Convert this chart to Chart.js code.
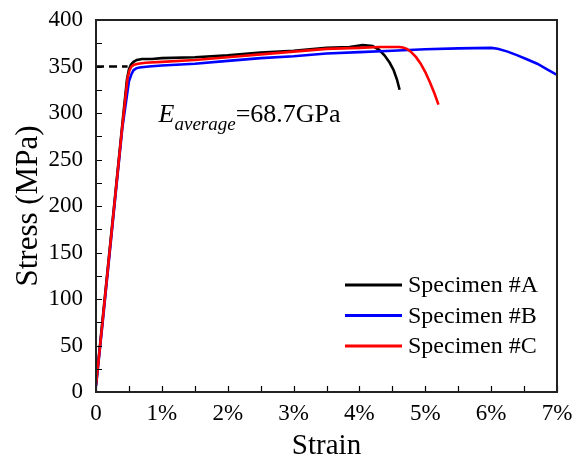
<!DOCTYPE html>
<html>
<head>
<meta charset="utf-8">
<script src="https://cdn.jsdelivr.net/npm/chart.js@4.4.1/dist/chart.umd.min.js"></script>
<style>
  html, body { margin: 0; padding: 0; background: #fff; }
  canvas { display: block; }
</style>
</head>
<body>
<canvas id="chart" width="574" height="465"></canvas>
<script>
const FONT = '"Liberation Serif", "Times New Roman", serif';

// strain in %, stress in MPa
const strainA = [0, 0.1, 0.2, 0.3, 0.4, 0.47, 0.5, 0.53, 0.57, 0.62, 0.7, 0.85, 1.0, 1.5, 2.0, 2.5, 3.0, 3.5, 3.85, 4.05, 4.2, 4.3, 4.38, 4.46, 4.52, 4.57, 4.61];
const stressA = [8, 78, 148, 218, 288, 336, 347, 352, 355, 357, 358, 358, 359, 360, 362, 365, 367, 370, 371, 373, 372, 368, 362, 354, 346, 336, 325];

const strainB = [0, 0.1, 0.2, 0.3, 0.4, 0.5, 0.54, 0.57, 0.61, 0.66, 0.8, 1.0, 1.5, 2.0, 2.5, 3.0, 3.5, 4.0, 4.5, 5.0, 5.5, 6.0, 6.1, 6.25, 6.4, 6.55, 6.7, 6.85, 7.0];
const stressB = [6, 74, 144, 214, 284, 334, 342, 346, 348, 349, 350, 351, 353, 356, 359, 361, 364, 365.5, 367, 368.5, 369.5, 370, 369, 366, 362, 357.5, 353, 347, 341];

const strainC = [0, 0.1, 0.2, 0.3, 0.4, 0.48, 0.51, 0.54, 0.58, 0.64, 0.75, 1.0, 1.5, 2.0, 2.5, 3.0, 3.5, 4.0, 4.3, 4.6, 4.66, 4.72, 4.78, 4.86, 4.93, 5.0, 5.07, 5.14, 5.2];
const stressC = [7, 76, 146, 216, 286, 338, 346, 350, 352, 353, 354, 355, 357, 360, 363, 366, 369, 370, 371, 371, 370.5, 369, 366, 360, 353, 344, 333, 321, 309];

// dashed yield guide
const strainYield = [0, 0.48];
const stressYield = [350, 350];

const labels = ['Specimen #A', 'Specimen #B', 'Specimen #C'];
const colors = ['#000000', '#0000ff', '#ff0000'];
const drawOrder = [2, 1, 0]; // red ends up on top, black underneath

const xMin = 0, xMax = 7, xStep = 1, xMinor = 0.5;
const yMin = 0, yMax = 400, yStep = 50, yMinor = 25;

const modulusText = { sym: 'E', sub: 'average', rest: '=68.7GPa', x: 0.95, y: 290 };

function pts(xs, ys) {
  return xs.map((v, i) => ({ x: v, y: ys[i] }));
}

const series = [
  pts(strainA, stressA),
  pts(strainB, stressB),
  pts(strainC, stressC)
];

const datasets = series.map((data, i) => ({
  label: labels[i],
  data,
  borderColor: colors[i],
  borderWidth: 2.6,
  pointRadius: 0,
  showLine: true,
  tension: 0,
  order: drawOrder[i]
}));

datasets.push({
  label: '',
  data: pts(strainYield, stressYield),
  borderColor: '#000',
  borderWidth: 2.4,
  borderDash: [8, 5],
  pointRadius: 0,
  showLine: true,
  order: 3
});

// frame plus inward major/minor ticks on the left and bottom axes
const frameTicks = {
  id: 'frameTicks',
  afterDatasetsDraw(chart) {
    const { ctx, chartArea: a, scales: { x, y } } = chart;
    ctx.save();
    ctx.strokeStyle = '#000';
    ctx.lineWidth = 1.2;
    ctx.beginPath();
    for (let v = xMin; v <= xMax + 1e-9; v += xMinor) {
      const px = Math.round(x.getPixelForValue(v)) + 0.5;
      ctx.moveTo(px, a.bottom);
      ctx.lineTo(px, a.bottom - 6);
    }
    for (let v = yMin; v <= yMax + 1e-9; v += yMinor) {
      const py = Math.round(y.getPixelForValue(v)) + 0.5;
      ctx.moveTo(a.left, py);
      ctx.lineTo(a.left + 6, py);
    }
    ctx.stroke();
    ctx.strokeStyle = '#222';
    ctx.lineWidth = 2;
    ctx.strokeRect(a.left, a.top, a.right - a.left, a.bottom - a.top);
    ctx.restore();
  }
};

const insideLegend = {
  id: 'insideLegend',
  afterDraw(chart) {
    const { ctx, chartArea: a } = chart;
    const x0 = a.right - 212;
    let yRow = a.bottom - 107;
    ctx.save();
    ctx.font = `24px ${FONT}`;
    ctx.textBaseline = 'middle';
    ctx.fillStyle = '#000';
    chart.data.datasets.forEach((ds) => {
      if (!ds.label) return;
      ctx.strokeStyle = ds.borderColor;
      ctx.lineWidth = 3;
      ctx.beginPath();
      ctx.moveTo(x0, yRow);
      ctx.lineTo(x0 + 57, yRow);
      ctx.stroke();
      ctx.fillText(ds.label, x0 + 63, yRow + 1);
      yRow += 30.5;
    });
    ctx.restore();
  }
};

const modulusNote = {
  id: 'modulusNote',
  afterDraw(chart) {
    const { ctx, scales: { x, y } } = chart;
    let px = x.getPixelForValue(modulusText.x);
    const py = y.getPixelForValue(modulusText.y);
    ctx.save();
    ctx.fillStyle = '#000';
    ctx.textBaseline = 'alphabetic';
    ctx.font = `italic 26px ${FONT}`;
    ctx.fillText(modulusText.sym, px, py);
    px += ctx.measureText(modulusText.sym).width;
    ctx.font = `italic 19px ${FONT}`;
    ctx.fillText(modulusText.sub, px, py + 8);
    px += ctx.measureText(modulusText.sub).width;
    ctx.font = `26px ${FONT}`;
    ctx.fillText(modulusText.rest, px, py);
    ctx.restore();
  }
};

new Chart(document.getElementById('chart'), {
  type: 'scatter',
  data: { datasets },
  options: {
    responsive: false,
    animation: false,
    layout: { padding: { top: 20, right: 17, bottom: 0, left: 0 } },
    plugins: {
      legend: { display: false },
      tooltip: { enabled: false }
    },
    scales: {
      x: {
        type: 'linear',
        min: xMin,
        max: xMax,
        grid: { display: false, drawTicks: false },
        border: { display: false },
        ticks: {
          stepSize: xStep,
          color: '#000',
          padding: 8,
          maxRotation: 0,
          font: { family: FONT, size: 23 },
          callback: (v) => (v === 0 ? '0' : `${v}%`)
        },
        title: {
          display: true,
          text: 'Strain',
          color: '#000',
          font: { family: FONT, size: 29 },
          padding: { top: 0, bottom: 1 }
        },
        afterFit: (s) => {
          s.height = 73;
          s.paddingLeft = 0;
          s.paddingRight = 0;
        }
      },
      y: {
        type: 'linear',
        min: yMin,
        max: yMax,
        grid: { display: false, drawTicks: false },
        border: { display: false },
        ticks: {
          stepSize: yStep,
          color: '#000',
          padding: 13,
          font: { family: FONT, size: 23 }
        },
        title: {
          display: true,
          text: 'Stress (MPa)',
          color: '#000',
          font: { family: FONT, size: 31 },
          padding: { top: 10, bottom: 0 }
        },
        afterFit: (s) => {
          s.width = 96;
          s.paddingTop = 0;
          s.paddingBottom = 0;
        }
      }
    }
  },
  plugins: [frameTicks, insideLegend, modulusNote]
});
</script>
</body>
</html>
